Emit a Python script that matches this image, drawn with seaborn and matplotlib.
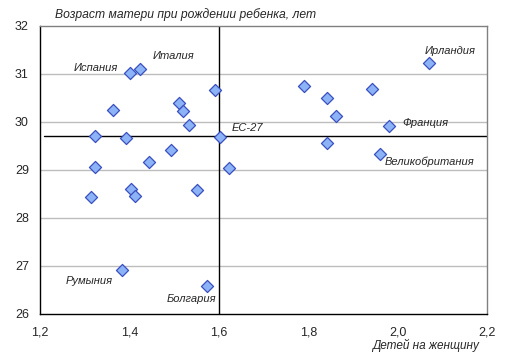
import matplotlib
matplotlib.use("Agg")
import matplotlib.pyplot as plt
import seaborn as sns
import pandas as pd

fertility = [1.323, 1.363, 1.402, 1.423, 1.392, 1.323, 1.443, 1.493, 1.512, 1.521,
             1.533, 1.592, 1.602, 1.622, 2.071, 1.791, 1.842, 1.942, 1.862, 1.981,
             1.842, 1.961, 1.313, 1.403, 1.413, 1.552, 1.383, 1.573]
mother_age = [29.71, 30.24, 31.03, 31.10, 29.67, 29.07, 29.16, 29.42, 30.40, 30.22,
              29.94, 30.66, 29.69, 29.05, 31.22, 30.74, 30.51, 30.69, 30.12, 29.92,
              29.57, 29.34, 28.43, 28.60, 28.46, 28.59, 26.92, 26.59]
country = ["", "", "Испания", "Италия", "", "", "", "", "", "",
           "", "", "ЕС-27", "", "Ирландия", "", "", "", "", "Франция",
           "", "Великобритания", "", "", "", "", "Румыния", "Болгария"]

eu_fertility = 1.60
eu_age = 29.70

x_ticks = [1.2, 1.4, 1.6, 1.8, 2.0, 2.2]
x_tick_labels = ["1,2", "1,4", "1,6", "1,8", "2,0", "2,2"]
y_ticks = [26, 27, 28, 29, 30, 31, 32]

title = "Возраст матери при рождении ребенка, лет"
xlabel = "Детей на женщину"

df = pd.DataFrame({"x": fertility, "y": mother_age, "name": country})

sns.set_style("white")
plt.rcParams["font.family"] = ["Liberation Sans", "DejaVu Sans"]

fig = plt.figure(figsize=(5.12, 3.6), dpi=100)
ax = fig.add_axes([40/512, 1-314/360, 447/512, 288/360])

ax.set_xlim(1.2, 2.2)
ax.set_ylim(26, 32)
for yt in y_ticks[1:-1]:
    ax.axhline(yt, color="#BDBDBD", lw=1, zorder=0)

ax.plot([1.21, 2.2], [eu_age, eu_age], color="black", lw=1, zorder=1)
ax.plot([eu_fertility, eu_fertility], [26, 32], color="black", lw=1, zorder=1)

sns.scatterplot(data=df, x="x", y="y", ax=ax, marker="D", s=38,
                color="#8DB3F7", edgecolor="#3A4FC0", linewidth=0.9, zorder=3, legend=False)

label_pos = {
    "Испания": (95.7, 68.3, "center"),
    "Италия": (174, 56, "center"),
    "ЕС-27": (232, 128, "left"),
    "Ирландия": (450, 50.7, "center"),
    "Франция": (425.7, 122.7, "center"),
    "Великобритания": (430, 161.7, "center"),
    "Румыния": (89.3, 280.7, "center"),
    "Болгария": (191, 299, "center"),
}
for name, (px, py, ha) in label_pos.items():
    fig.text(px/512, 1-py/360, name, ha=ha, va="center", fontsize=8, style="italic")

ax.set_xticks(x_ticks)
ax.set_xticklabels(x_tick_labels)
ax.set_yticks(y_ticks)
ax.tick_params(axis="both", length=0, labelsize=9, pad=8)
ax.tick_params(axis="x", pad=9)
ax.set_xlabel("")
ax.set_ylabel("")

for s in ["left", "bottom"]:
    ax.spines[s].set_color("black")
    ax.spines[s].set_linewidth(1)
for s in ["top", "right"]:
    ax.spines[s].set_color("#808080")
    ax.spines[s].set_linewidth(1)

fig.text(55/512, 1-15/360, title, ha="left", va="center", fontsize=8.7, style="italic")
fig.text(479/512, 1-345/360, xlabel, ha="right", va="center", fontsize=8.5, style="italic")

fig.savefig("out.png", dpi=100)
